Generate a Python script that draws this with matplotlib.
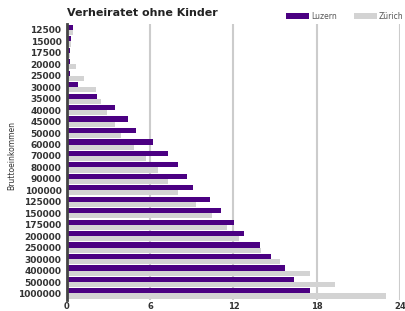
import matplotlib
matplotlib.use("Agg")
from matplotlib import pyplot as plt
import numpy as np

categories = ["12500", "15000", "17500", "20000", "25000", "30000", "35000",
              "40000", "45000", "50000", "60000", "70000", "80000", "90000",
              "100000", "125000", "150000", "175000", "200000", "250000",
              "300000", "400000", "500000", "1000000"]
luzern = [0.45, 0.3, 0.24, 0.24, 0.24, 0.81, 2.17, 3.45, 4.38, 5.0, 6.17, 7.29,
          8.02, 8.67, 9.12, 10.29, 11.12, 12.02, 12.76, 13.95, 14.69, 15.69,
          16.33, 17.5]
zuerich = [0.4, 0.26, 0.24, 0.62, 1.24, 2.07, 2.43, 2.88, 3.43, 3.9, 4.81, 5.71,
           6.55, 7.29, 8.0, 9.29, 10.48, 11.57, 12.38, 14.02, 15.33, 17.5,
           19.33, 23.0]
x_ticks = [0, 6, 12, 18, 24]

fig = plt.figure(figsize=(4.06, 3.11), dpi=100)
ax = fig.add_axes([0.165, 0.0354, 0.820, 0.8875])

y = np.arange(len(categories))
h = 0.45
ax.barh(y - h / 2, luzern, height=h, color='#4b0082', label='Luzern', zorder=3)
ax.barh(y + h / 2, zuerich, height=h, color='#d3d3d3', label='Zürich', zorder=3)

ax.set_xlim(0, 24)
ax.set_ylim(len(categories) - 1 + 0.57, -0.52)
ax.set_xticks(x_ticks)
ax.set_xticklabels([str(t) for t in x_ticks])
ax.set_yticks(y)
ax.set_yticklabels(categories)
ax.tick_params(axis='both', length=0, labelsize=6.5, labelcolor='#333333')
ax.tick_params(axis='x', pad=1.5, labelsize=6)
ax.tick_params(axis='y', pad=4)
for lab in ax.get_xticklabels() + ax.get_yticklabels():
    lab.set_fontweight('bold')

ax.grid(axis='x', color='#cccccc', linewidth=1.5, zorder=0)
for s in ['top', 'right', 'bottom']:
    ax.spines[s].set_visible(False)
ax.spines['left'].set_color('#444444')
ax.spines['left'].set_linewidth(2)
ax.spines['left'].set_zorder(4)

fig.text(0.165, 0.958, 'Verheiratet ohne Kinder', fontsize=8, fontweight='bold',
         color='#222222', va='center')
fig.text(0.03, 0.5, 'Bruttoeinkommen', rotation=90, fontsize=5.5,
         color='#333333', va='center', ha='center')

ax.legend(loc='lower right', bbox_to_anchor=(1.02, 1.0), ncol=2, frameon=False,
          fontsize=5.5, handlelength=3.0, handleheight=0.9, columnspacing=2.2,
          handletextpad=0.3, borderaxespad=0, labelcolor='#555555')

fig.savefig('out.png', dpi=100)
